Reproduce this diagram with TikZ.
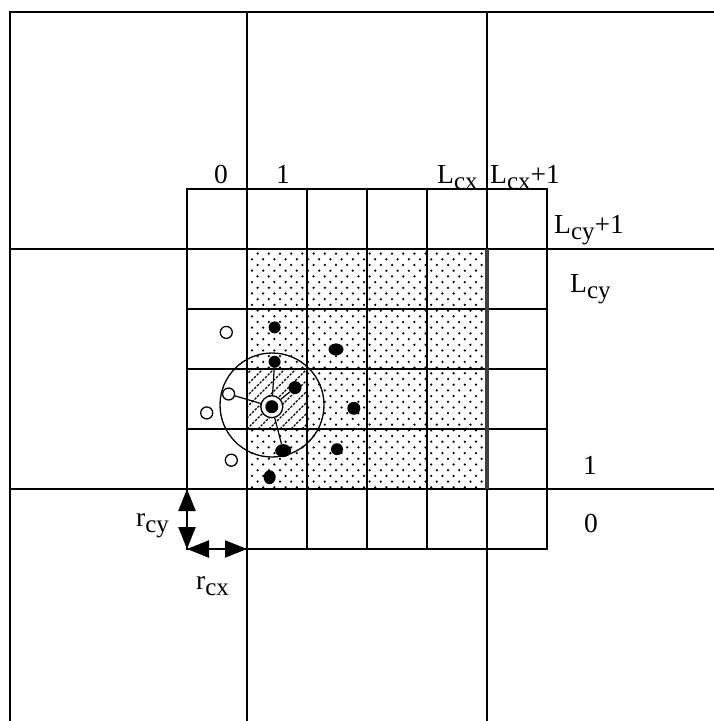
\documentclass[tikz,border=0pt]{standalone}
\usepackage{fontspec}
\setmainfont{Liberation Serif}
\usetikzlibrary{arrows.meta,shapes.geometric,patterns}
\pgfdeclarepatternformonly{celldots}{\pgfqpoint{-1.5pt}{-1.5pt}}{\pgfqpoint{12.7pt}{12.9pt}}{\pgfqpoint{11.2pt}{11.4pt}}{%
  \pgfpathcircle{\pgfqpoint{0pt}{0pt}}{1.25pt}%
  \pgfpathcircle{\pgfqpoint{5.6pt}{5.7pt}}{1.25pt}%
  \pgfusepath{fill}}
\newcommand{\mysb}[1]{\raisebox{-6.5pt}{\fontsize{25}{27}\selectfont #1}}
\tikzset{
  gridline/.style={line width=1.6pt, line cap=rect},
  lbl/.style={font=\fontsize{27.5}{30}\selectfont, inner sep=0pt, anchor=base west},
  full/.style={circle, fill=black, inner sep=0pt, minimum size=12pt},
  fullel/.style={ellipse, fill=black, inner sep=0pt},
  empty/.style={circle, draw=black, line width=1.3pt, fill=white, inner sep=0pt, minimum size=12pt},
  bond/.style={line width=1.2pt},
  span/.style={line width=2.2pt, {Triangle[length=22pt,width=17pt]}-{Triangle[length=22pt,width=17pt]}}
}
\begin{document}
\begin{tikzpicture}[x=1pt,y=-1pt]
\useasboundingbox (0,0) rectangle (714,721);
% shaded cells
\fill[pattern=celldots] (247,249) rectangle (487,489);
% hatched cell
\fill[white] (247,369) rectangle (307,429);
\begin{scope}
  \clip (247,369) rectangle (307,429);
  \foreach \k in {-66,-55,...,66}
    \draw[line width=1.2pt, dash pattern=on 2.4pt off 1.4pt] (247+\k,429) -- (307+\k,369);
\end{scope}
% big grid
\draw[gridline] (10,721) -- (10,12) -- (714,12);
\draw[gridline] (247,12) -- (247,721);
\draw[gridline] (487,12) -- (487,721);
\draw[gridline] (10,249) -- (714,249);
\draw[gridline] (10,489) -- (714,489);
% small grid
\foreach \i in {0,...,6} {
  \draw[gridline] (187+60*\i,189) -- (187+60*\i,549);
  \draw[gridline] (187,189+60*\i) -- (547,189+60*\i);
}
\draw[line width=3.5pt, black!75] (487,249) -- (487,489);
% cut-off circle
\draw[line width=1.3pt] (272,405) circle[radius=52];
% particles
\node[full] (p1) at (274.6,327.4) {};
\node[fullel, minimum width=15pt, minimum height=12pt] (p2) at (336,349.4) {};
\node[full] (p3) at (274.6,361.8) {};
\node[full, minimum size=13pt] (p4) at (295,387.6) {};
\node[full, minimum size=13pt] (p5) at (353.8,408.3) {};
\node[fullel, minimum width=16pt, minimum height=13pt] (p6) at (283.2,450.6) {};
\node[full] (p7) at (337,449.2) {};
\node[fullel, minimum width=12pt, minimum height=14pt] (p8) at (269.6,477.2) {};
\node[empty] (o1) at (226.3,332.4) {};
\node[empty] (o2) at (228.6,394) {};
\node[empty] (o3) at (206.7,412.9) {};
\node[empty] (o4) at (231.3,460.2) {};
\node[circle, draw=black, line width=1.3pt, fill=white, inner sep=0pt, minimum size=22pt] (c) at (271.8,406.7) {};
\draw[bond] (c) -- (p3);
\draw[bond] (c) -- (p4);
\draw[bond] (c) -- (o2);
\draw[bond] (c) -- (p6);
\node[full, minimum size=13pt] (cc) at (c.center) {};
% r_c arrows
\coordinate (a0) at (187,489);
\coordinate (a1) at (187,549);
\coordinate (a2) at (247,549);
\draw[span] (a0) -- (a1);
\draw[span] (a1) -- (a2);
% labels
\node[lbl] (t0) at (214,183) {0};
\node[lbl] (t1) at (276,183) {1};
\node[lbl] (tl) at (437,183) {L\mysb{cx}};
\node[lbl] (tl1) at (490,183) {L\mysb{cx}+1};
\node[lbl] (sl1) at (554,233) {L\mysb{cy}+1};
\node[lbl] (sl) at (570,292) {L\mysb{cy}};
\node[lbl] (s1) at (583,474) {1};
\node[lbl] (s0) at (584,532) {0};
\node[lbl] (rcy) at (136,526) {r\mysb{cy}};
\node[lbl] (rcx) at (196,589) {r\mysb{cx}};
\end{tikzpicture}
\end{document}
